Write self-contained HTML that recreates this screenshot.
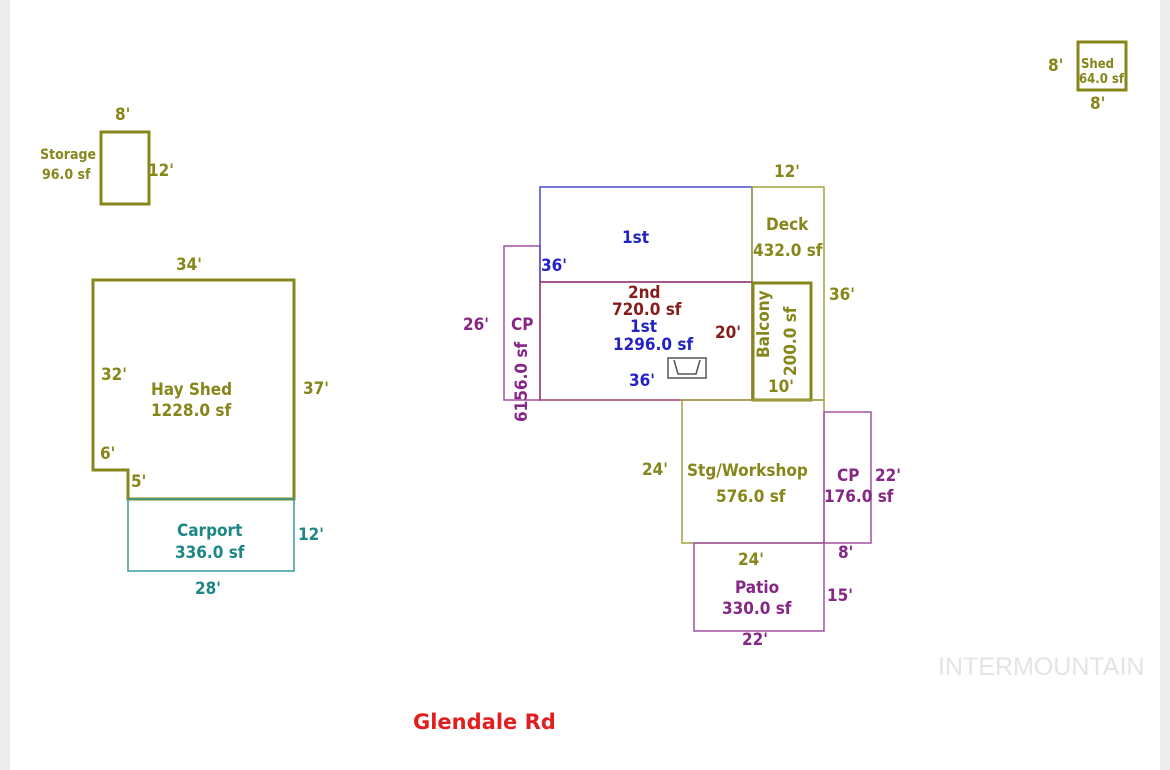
<!DOCTYPE html>
<html><head><meta charset="utf-8"><style>
html,body{margin:0;padding:0;background:#fff;}
svg{display:block;}
text{font-family:"DejaVu Sans","Liberation Sans",sans-serif;font-stretch:condensed;}
.o{fill:#86861a;} .b{fill:#2323c4;} .m{fill:#861c1c;} .p{fill:#862686;} .t{fill:#1e8686;}
</style></head><body>
<svg width="1170" height="770" viewBox="0 0 1170 770" xmlns="http://www.w3.org/2000/svg">
<rect x="0" y="0" width="10" height="770" fill="#ececec"/>
<rect x="1160" y="0" width="10" height="770" fill="#ececec"/>
<g fill="none">
<rect x="1078" y="42" width="48" height="48" stroke="#86861a" stroke-width="3"/>
<rect x="101" y="132" width="48" height="72" stroke="#86861a" stroke-width="3"/>
<polygon points="93,280 294,280 294,499 128,499 128,470 93,470" stroke="#86861a" stroke-width="3"/>
<rect x="128" y="499" width="166" height="72" stroke="#3a9a9a" stroke-width="1.5"/>
<rect x="504" y="246" width="36" height="154" stroke="#a050a0" stroke-width="1.5"/>
<rect x="540" y="187" width="212" height="95" stroke="#4a4ad0" stroke-width="1.5"/>
<rect x="752" y="187" width="72" height="213" stroke="#a0a040" stroke-width="1.5"/>
<rect x="540" y="282" width="212" height="118" stroke="#a04070" stroke-width="1.5"/>
<rect x="753" y="283" width="58" height="117" stroke="#86861a" stroke-width="3"/>
<rect x="682" y="400" width="142" height="143" stroke="#a0a040" stroke-width="1.5"/>
<rect x="824" y="412" width="47" height="131" stroke="#a050a0" stroke-width="1.5"/>
<rect x="694" y="543" width="130" height="88" stroke="#a050a0" stroke-width="1.5"/>
<rect x="668" y="358" width="38" height="20" stroke="#555" stroke-width="1.5"/>
<polyline points="674,360 678,374 696,374 700,360" stroke="#555" stroke-width="1.5"/>
</g>
<g font-weight="bold" font-size="17">
<text class="o" x="1048" y="71">8'</text>
<text class="o" x="1081" y="68" font-size="13">Shed</text>
<text class="o" x="1079" y="83" font-size="13">64.0 sf</text>
<text class="o" x="1090" y="109">8'</text>
<text class="o" x="115" y="120">8'</text>
<text class="o" x="40" y="159" font-size="14">Storage</text>
<text class="o" x="42" y="179" font-size="14">96.0 sf</text>
<text class="o" x="148" y="176">12'</text>
<text class="o" x="176" y="270">34'</text>
<text class="o" x="101" y="380">32'</text>
<text class="o" x="151" y="395">Hay Shed</text>
<text class="o" x="151" y="416">1228.0 sf</text>
<text class="o" x="303" y="394">37'</text>
<text class="o" x="100" y="459">6'</text>
<text class="o" x="131" y="487">5'</text>
<text class="t" x="177" y="536">Carport</text>
<text class="t" x="175" y="558">336.0 sf</text>
<text class="t" x="298" y="540">12'</text>
<text class="t" x="195" y="594">28'</text>
<text class="o" x="774" y="177">12'</text>
<text class="b" x="622" y="243">1st</text>
<text class="b" x="541" y="271">36'</text>
<text class="o" x="766" y="230">Deck</text>
<text class="o" x="753" y="256">432.0 sf</text>
<text class="o" x="829" y="300">36'</text>
<text class="p" x="463" y="330">26'</text>
<text class="p" x="511" y="330">CP</text>
<text class="p" transform="translate(527,422) rotate(-90)">6156.0 sf</text>
<text class="m" x="628" y="298">2nd</text>
<text class="m" x="612" y="315">720.0 sf</text>
<text class="b" x="630" y="332">1st</text>
<text class="b" x="613" y="350">1296.0 sf</text>
<text class="m" x="715" y="338">20'</text>
<text class="b" x="629" y="386">36'</text>
<text class="o" transform="translate(769,358) rotate(-90)">Balcony</text>
<text class="o" transform="translate(796,376) rotate(-90)">200.0 sf</text>
<text class="o" x="768" y="392">10'</text>
<text class="o" x="642" y="475">24'</text>
<text class="o" x="687" y="476">Stg/Workshop</text>
<text class="o" x="716" y="502">576.0 sf</text>
<text class="p" x="837" y="481">CP</text>
<text class="p" x="824" y="502">176.0 sf</text>
<text class="p" x="875" y="481">22'</text>
<text class="o" x="738" y="565">24'</text>
<text class="p" x="838" y="558">8'</text>
<text class="p" x="735" y="593">Patio</text>
<text class="p" x="722" y="614">330.0 sf</text>
<text class="p" x="827" y="601">15'</text>
<text class="p" x="742" y="645">22'</text>
<text x="938" y="675" font-size="25" font-weight="normal" fill="#e4e4e4" style="font-family:'Liberation Sans',sans-serif">INTERMOUNTAIN</text>
<text x="413" y="729" font-size="21" fill="#e02020" style="font-stretch:normal">Glendale Rd</text>
</g>
</svg>
</body></html>
